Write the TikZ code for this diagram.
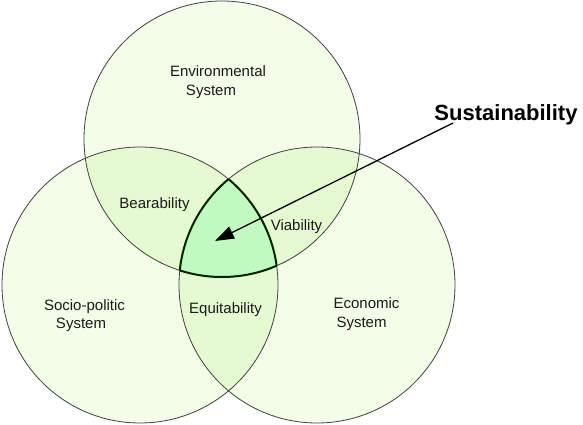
\documentclass[tikz,border=0pt]{standalone}
\usepackage{fontspec}
\setmainfont{Liberation Sans}
\usetikzlibrary{arrows.meta}
\definecolor{oneC}{HTML}{F3FDE8}
\definecolor{twoC}{HTML}{E6FAD2}
\definecolor{threeC}{HTML}{C0FAC0}
\definecolor{lineC}{HTML}{404040}
\definecolor{txtC}{HTML}{1A1A1A}
\tikzset{
  ring/.style={draw=lineC, line width=0.8pt},
  core/.style={draw=black!85!green, line width=2pt},
  lbl/.style={font=\fontsize{15}{19}\selectfont, text=txtC, anchor=base, inner sep=0pt},
  title/.style={font=\fontsize{22}{26}\selectfont\bfseries, text=black, anchor=base, inner sep=0pt},
  pointer/.style={draw=black, line width=1.3pt, -{Triangle[length=19pt,width=13pt]}}
}
\begin{document}
\begin{tikzpicture}[x=1pt,y=-1pt]
\useasboundingbox (0,0) rectangle (583,425);
\coordinate (cT) at (222,139);
\coordinate (cL) at (140,285);
\coordinate (cR) at (317,285);
\def\rad{138}
% single fills
\fill[oneC] (cT) circle (\rad);
\fill[oneC] (cL) circle (\rad);
\fill[oneC] (cR) circle (\rad);
% pairwise overlaps
\begin{scope}
  \clip (cT) circle (\rad);
  \fill[twoC] (cL) circle (\rad);
  \fill[twoC] (cR) circle (\rad);
\end{scope}
\begin{scope}
  \clip (cL) circle (\rad);
  \fill[twoC] (cR) circle (\rad);
\end{scope}
% triple overlap
\begin{scope}
  \clip (cT) circle (\rad);
  \clip (cL) circle (\rad);
  \fill[threeC] (cR) circle (\rad);
\end{scope}
% outlines
\draw[ring] (cT) circle (\rad);
\draw[ring] (cL) circle (\rad);
\draw[ring] (cR) circle (\rad);
% thick outline of the centre
\begin{scope}
  \clip (cT) circle (\rad);
  \clip (cL) circle (\rad);
  \draw[core] (cR) circle (\rad);
\end{scope}
\begin{scope}
  \clip (cT) circle (\rad);
  \clip (cR) circle (\rad);
  \draw[core] (cL) circle (\rad);
\end{scope}
\begin{scope}
  \clip (cL) circle (\rad);
  \clip (cR) circle (\rad);
  \draw[core] (cT) circle (\rad);
\end{scope}
% labels
\node[lbl] (env1) at (218,77) {Environmental};
\node[lbl] (env2) at (211,96) {System};
\node[lbl] (soc1) at (84.5,310) {Socio-politic};
\node[lbl] (soc2) at (81,328) {System};
\node[lbl] (eco1) at (366.5,308) {Economic};
\node[lbl] (eco2) at (361.5,327) {System};
\node[lbl] (bear) at (154.5,208) {Bearability};
\node[lbl] (viab) at (296.5,230) {Viability};
\node[lbl] (equi) at (225.5,313) {Equitability};
\node[title] (sust) at (506,121) {Sustainability};
% arrow
\coordinate (sstart) at (453,123);
\coordinate (stip) at (215,241);
\draw[pointer] (sstart) -- (stip);
\end{tikzpicture}
\end{document}
